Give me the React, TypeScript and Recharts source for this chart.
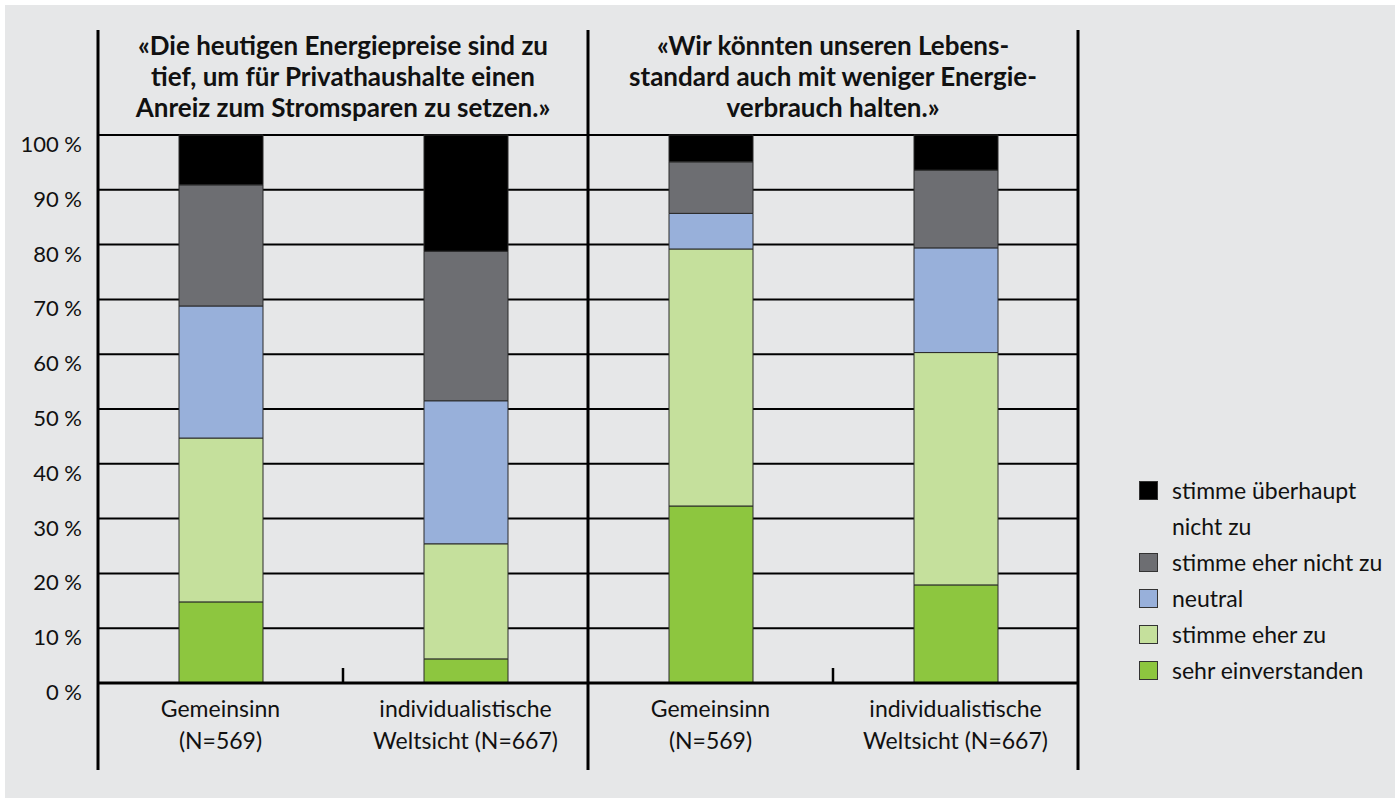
import { BarChart, Bar, XAxis, YAxis, CartesianGrid, Legend, Customized } from 'recharts';

const categories = ['g1', 'i1', 'g2', 'i2'];
const categoryLabels = [
  ['Gemeinsinn', '(N=569)'],
  ['individualistische', 'Weltsicht (N=667)'],
  ['Gemeinsinn', '(N=569)'],
  ['individualistische', 'Weltsicht (N=667)'],
];

const sehrEinverstanden = [14.8, 4.4, 32.3, 17.9];
const eherZu = [29.9, 21.0, 46.9, 42.4];
const neutral = [24.1, 26.1, 6.5, 19.1];
const eherNicht = [22.1, 27.3, 9.4, 14.2];
const ueberhauptNicht = [9.1, 21.2, 4.9, 6.4];

const yTicks = [0, 10, 20, 30, 40, 50, 60, 70, 80, 90, 100];

const titles = [
  ['«Die heutigen Energiepreise sind zu', 'tief, um für Privathaushalte einen', 'Anreiz zum Stromsparen zu setzen.»'],
  ['«Wir könnten unseren Lebens-', 'standard auch mit weniger Energie-', 'verbrauch halten.»'],
];

// bottom to top of each stack
const series = [
  { key: 'sehr', name: 'sehr einverstanden', values: sehrEinverstanden, color: '#8dc63f' },
  { key: 'eherZu', name: 'stimme eher zu', values: eherZu, color: '#c5e09c' },
  { key: 'neutral', name: 'neutral', values: neutral, color: '#98b0da' },
  { key: 'eherNicht', name: 'stimme eher nicht zu', values: eherNicht, color: '#6d6e72' },
  { key: 'ueberhaupt', name: 'stimme überhaupt\nnicht zu', values: ueberhauptNicht, color: '#000000' },
];

const data = categories.map((id, i) => {
  const row: Record<string, string | number> = { id };
  series.forEach((s) => { row[s.key] = s.values[i]; });
  return row;
});

const W = 1400;
const H = 798;
const X_H = 30;
const M = { top: 135, right: 322, bottom: 115 - X_H, left: 0 };
const Y_W = 98;
const FONT = 'Lato, "Noto Sans", sans-serif';

const plotLeft = M.left + Y_W;
const plotRight = W - M.right;
const plotBottom = H - M.bottom - X_H;
const band = (plotRight - plotLeft) / categories.length;

function Frame() {
  const groups = [0, 1].map((g) => plotLeft + g * 2 * band);
  return (
    <g>
      {[plotLeft, plotLeft + 2 * band, plotRight].map((x) => (
        <line key={x} x1={x} x2={x} y1={30} y2={770} stroke="#000" strokeWidth={3} />
      ))}
      {[plotLeft + band, plotLeft + 3 * band].map((x) => (
        <line key={x} x1={x} x2={x} y1={plotBottom - 15} y2={plotBottom} stroke="#000" strokeWidth={2.5} />
      ))}
      {groups.map((gx, g) => (
        <text key={g} textAnchor="middle" fontFamily={FONT} fontWeight={700} fontSize={26} fill="#111">
          {titles[g].map((line, j) => (
            <tspan key={j} x={gx + band} y={55 + j * 31}>{line}</tspan>
          ))}
        </text>
      ))}
    </g>
  );
}

function CategoryTick({ x, y, index }: any) {
  const lines = categoryLabels[index] || [];
  return (
    <text textAnchor="middle" fontFamily={FONT} fontSize={23} fill="#111">
      {lines.map((l, j) => (
        <tspan key={j} x={x} y={plotBottom + 34 + j * 32}>{l}</tspan>
      ))}
    </text>
  );
}

function PercentTick({ x, y, payload }: any) {
  return (
    <text x={x} y={y + 17} textAnchor="end" fontFamily={FONT} fontSize={22} fill="#111">
      {`${payload.value} %`}
    </text>
  );
}

function LegendBox() {
  return (
    <div style={{ fontFamily: FONT, fontSize: 23, color: '#111' }}>
      {[...series].reverse().map((s) => (
        <div key={s.key} style={{ display: 'flex', alignItems: 'flex-start', lineHeight: '36px' }}>
          <span style={{
            width: 17, height: 17, marginTop: 9, marginRight: 14, background: s.color,
            border: '1px solid #333', flexShrink: 0,
          }} />
          <span style={{ whiteSpace: 'pre-line' }}>{s.name}</span>
        </div>
      ))}
    </div>
  );
}

export default function App() {
  return (
    <div style={{ position: 'absolute', left: 0, top: 0, width: W, height: H, background: '#fff' }}>
      <div style={{ position: 'absolute', left: 5, top: 5, width: W - 10, height: H - 5, background: '#e6e7e8' }} />
      <div style={{ position: 'absolute', left: 0, top: 0 }}>
        <BarChart width={W} height={H} data={data} margin={M}>
          <CartesianGrid vertical={false} stroke="#000" strokeWidth={2} />
          <XAxis
            dataKey="id"
            height={X_H}
            axisLine={{ stroke: '#000', strokeWidth: 3 }}
            tickLine={false}
            tick={<CategoryTick />}
            interval={0}
          />
          <YAxis
            domain={[0, 100]}
            ticks={yTicks}
            width={Y_W}
            axisLine={false}
            tickLine={false}
            tickSize={8}
            tickMargin={8}
            tick={<PercentTick />}
          />
          {series.map((s) => (
            <Bar
              key={s.key}
              dataKey={s.key}
              name={s.name}
              stackId="a"
              fill={s.color}
              stroke="#2a2a2a"
              strokeWidth={1}
              barSize={84}
              isAnimationActive={false}
            />
          ))}
          <Legend
            layout="vertical"
            align="center"
            verticalAlign="middle"
            content={<LegendBox />}
            wrapperStyle={{ left: 1139, top: 472, width: 260 }}
          />
          <Customized component={<Frame />} />
        </BarChart>
      </div>
    </div>
  );
}
